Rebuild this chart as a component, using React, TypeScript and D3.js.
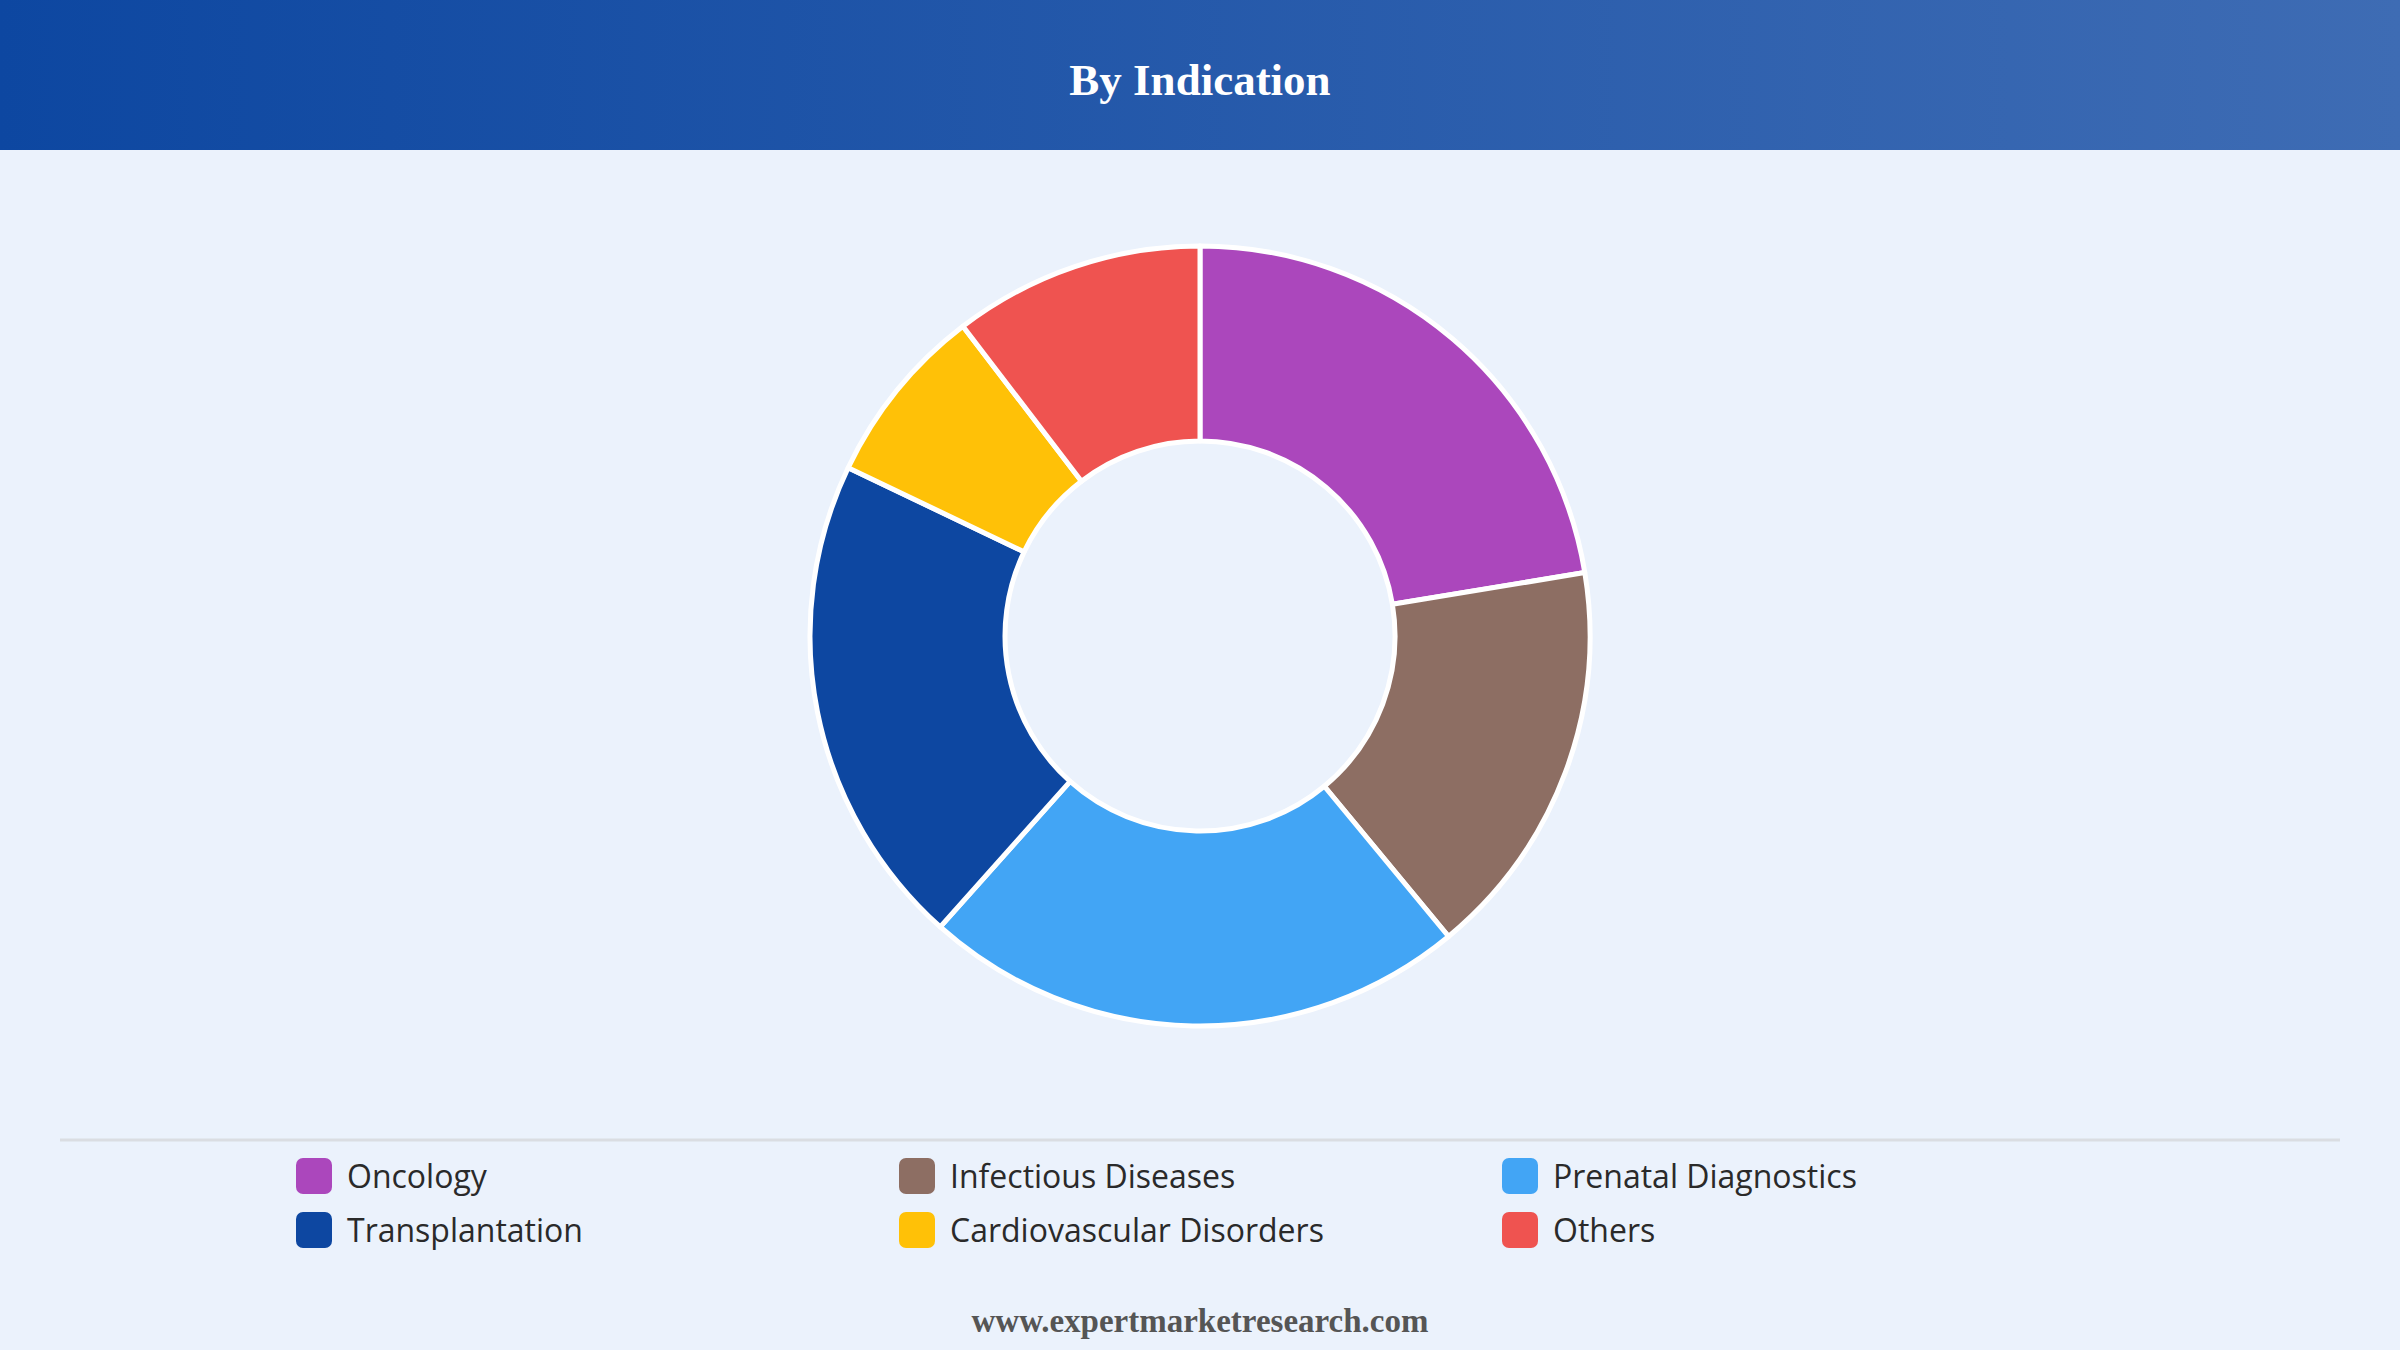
import React, { useEffect, useRef } from "react";
import * as d3 from "d3";

const WIDTH = 2400;
const HEIGHT = 1350;

const categories = [
  "Oncology",
  "Infectious Diseases",
  "Prenatal Diagnostics",
  "Transplantation",
  "Cardiovascular Disorders",
  "Others",
];
const shares = [22.4, 16.6, 22.6, 20.5, 7.5, 10.4];
const colors = ["#AB47BC", "#8D6E63", "#42A5F5", "#0D47A1", "#FFC107", "#EF5350"];

const TITLE = "By Indication";
const SOURCE = "www.expertmarketresearch.com";

const App: React.FC = () => {
  const ref = useRef<SVGSVGElement>(null);

  useEffect(() => {
    document.body.style.margin = "0";
    if (!ref.current) return;

    const svg = d3.select(ref.current);
    svg.selectAll("*").remove();

    const data = categories.map((name, i) => ({ name, value: shares[i], color: colors[i] }));

    // background
    svg.append("rect").attr("width", WIDTH).attr("height", HEIGHT).attr("fill", "#EBF2FC");

    // header band
    const defs = svg.append("defs");
    const grad = defs
      .append("linearGradient")
      .attr("id", "headerGrad")
      .attr("x1", "0%")
      .attr("x2", "100%")
      .attr("y1", "0%")
      .attr("y2", "0%");
    grad.append("stop").attr("offset", "0%").attr("stop-color", "#0D47A1");
    grad.append("stop").attr("offset", "100%").attr("stop-color", "#3E6CB4");

    svg.append("rect").attr("width", WIDTH).attr("height", 150).attr("fill", "url(#headerGrad)");

    svg
      .append("text")
      .attr("x", WIDTH / 2)
      .attr("y", 95)
      .attr("text-anchor", "middle")
      .attr("fill", "#fff")
      .style("font-family", "'Liberation Serif', 'Times New Roman', serif")
      .style("font-weight", "bold")
      .style("font-size", "45px")
      .text(TITLE);

    // donut
    const cx = 1200;
    const cy = 636;
    const outer = 390;
    const inner = 195;

    const pie = d3
      .pie<{ name: string; value: number; color: string }>()
      .value((d) => d.value)
      .sort(null);

    const arc = d3
      .arc<d3.PieArcDatum<{ name: string; value: number; color: string }>>()
      .innerRadius(inner)
      .outerRadius(outer);

    const g = svg.append("g").attr("transform", `translate(${cx},${cy})`);

    g.selectAll("path")
      .data(pie(data))
      .enter()
      .append("path")
      .attr("d", arc)
      .attr("fill", (d) => d.data.color)
      .attr("stroke", "#fff")
      .attr("stroke-width", 5)
      .attr("stroke-linejoin", "round");

    // separator
    svg
      .append("line")
      .attr("x1", 60)
      .attr("x2", 2340)
      .attr("y1", 1140)
      .attr("y2", 1140)
      .attr("stroke", "#DADDE2")
      .attr("stroke-width", 3);

    // legend
    const legend = svg.append("g");
    const colX = [296, 899, 1502];
    const rowY = [1176, 1230];

    const items = legend
      .selectAll("g.item")
      .data(data)
      .enter()
      .append("g")
      .attr("class", "item")
      .attr("transform", (_, i) => `translate(${colX[i % 3]},${rowY[Math.floor(i / 3)]})`);

    items
      .append("rect")
      .attr("x", 0)
      .attr("y", -18)
      .attr("width", 36)
      .attr("height", 36)
      .attr("rx", 7)
      .attr("fill", (d) => d.color);

    items
      .append("text")
      .attr("x", 51)
      .attr("y", 12)
      .attr("fill", "#2a2a2a")
      .style("font-family", "'Open Sans', 'Noto Sans', sans-serif")
      .style("font-weight", 500)
      .style("font-size", "32px")
      .text((d) => d.name);

    // source
    svg
      .append("text")
      .attr("x", WIDTH / 2)
      .attr("y", 1332)
      .attr("text-anchor", "middle")
      .attr("fill", "#555")
      .style("font-family", "'Liberation Serif', 'Times New Roman', serif")
      .style("font-weight", "bold")
      .style("font-size", "33px")
      .text(SOURCE);
  }, []);

  return <svg ref={ref} width={WIDTH} height={HEIGHT} style={{ display: "block" }} />;
};

export default App;
